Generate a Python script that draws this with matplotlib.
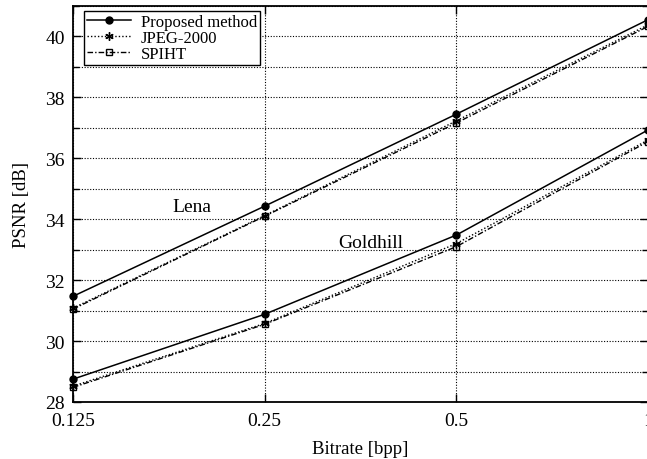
import matplotlib
matplotlib.use("Agg")
import matplotlib.pyplot as plt
from matplotlib.ticker import FixedLocator, FixedFormatter, MultipleLocator, NullFormatter

plt.rcParams['font.family'] = ['Liberation Serif', 'DejaVu Serif']

bitrate = [0.125, 0.25, 0.5, 1.0]
xtick_labels = ["0.125", "0.25", "0.5", "1"]

lena_proposed = [31.47, 34.43, 37.45, 40.55]
lena_jpeg2000 = [31.08, 34.12, 37.23, 40.38]
lena_spiht = [31.05, 34.10, 37.16, 40.33]

goldhill_proposed = [28.75, 30.88, 33.48, 36.93]
goldhill_jpeg2000 = [28.52, 30.58, 33.20, 36.60]
goldhill_spiht = [28.48, 30.55, 33.10, 36.55]

fig = plt.figure(figsize=(6.47, 4.60), dpi=100)
ax = fig.add_axes([73 / 647, 57 / 460, 575 / 647, 396 / 460])

styles = {
    "Proposed method": dict(color="black", lw=1.1, ls="-", marker="o", ms=5,
                            mfc="black", mec="black"),
    "JPEG-2000": dict(color="black", lw=1.0, ls=(0, (1, 1.5)), marker=(6, 2, 0),
                      ms=6, mfc="black", mec="black", mew=1.0),
    "SPIHT": dict(color="black", lw=1.0, ls=(0, (4, 1.5, 1, 1.5)), marker="s",
                  ms=5, mfc="none", mec="black", mew=1.0),
}

series = [
    ("Proposed method", lena_proposed, goldhill_proposed),
    ("JPEG-2000", lena_jpeg2000, goldhill_jpeg2000),
    ("SPIHT", lena_spiht, goldhill_spiht),
]

for name, lena, gold in series:
    ax.plot(bitrate, lena, label=name, clip_on=False, zorder=3, **styles[name])
    ax.plot(bitrate, gold, clip_on=False, zorder=3, **styles[name])

ax.set_xscale("log", base=2)
ax.set_xlim(0.125, 1.0)
ax.set_ylim(28, 41)
ax.xaxis.set_major_locator(FixedLocator(bitrate))
ax.xaxis.set_major_formatter(FixedFormatter(xtick_labels))
ax.xaxis.set_minor_locator(FixedLocator([]))
ax.yaxis.set_major_locator(MultipleLocator(2))
ax.yaxis.set_minor_locator(MultipleLocator(1))
ax.yaxis.set_minor_formatter(NullFormatter())

ax.grid(True, which="both", axis="y", color="black", ls=(0, (1, 1.5)), lw=0.8)
ax.grid(True, which="major", axis="x", color="black", ls=(0, (1, 1.5)), lw=0.8)

ax.tick_params(which="both", direction="in", top=True, right=True,
               labelsize=14, width=1.0)
ax.tick_params(which="major", length=6)
ax.tick_params(axis="x", which="major", pad=7)
ax.tick_params(axis="y", which="major", pad=6)
ax.tick_params(which="minor", length=4)
for s in ax.spines.values():
    s.set_linewidth(1.3)

ax.set_xlabel("Bitrate [bpp]", fontsize=13.5, labelpad=8)
ax.set_ylabel("PSNR [dB]", fontsize=13.5, labelpad=11)

ax.text(0.192, 34.42, "Lena", fontsize=14, ha="center", va="center")
ax.text(0.3665, 33.22, "Goldhill", fontsize=14, ha="center", va="center")

leg = ax.legend(loc="upper left", bbox_to_anchor=(0.019, 0.988), fontsize=12,
                frameon=True, fancybox=False, framealpha=1, edgecolor="black",
                handlelength=2.6, handletextpad=0.6, borderpad=0.2,
                labelspacing=0.0, borderaxespad=0)
leg.get_frame().set_linewidth(1.0)

fig.savefig("out.png", dpi=100)
